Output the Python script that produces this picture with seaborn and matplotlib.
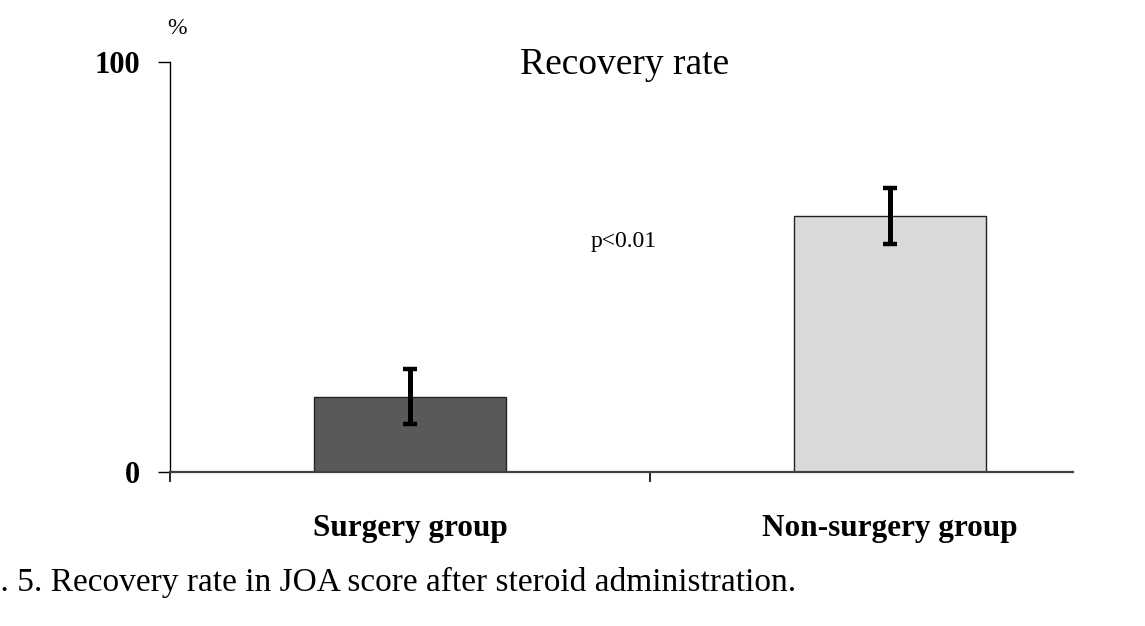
import matplotlib
matplotlib.use("Agg")
import matplotlib.pyplot as plt
import seaborn as sns
import pandas as pd

# data
groups = ["Surgery group", "Non-surgery group"]
recovery = [18.4, 62.4]
sd = [6.7, 6.8]
bar_colors = ["#595959", "#d9d9d9"]
y_ticks = [0, 100]

sns.set_theme(style="white")
plt.rcParams['font.family'] = ['Liberation Serif', 'DejaVu Serif']
plt.rcParams['text.color'] = 'black'

df = pd.DataFrame({"group": groups, "recovery": recovery})

fig = plt.figure(figsize=(11.45, 6.26), dpi=100)
ax = fig.add_axes([170 / 1145, 1 - 472 / 626, (1073 - 170) / 1145, (472 - 62) / 626])

sns.barplot(data=df, x="group", y="recovery", hue="group", palette=bar_colors,
            width=0.4, edgecolor="#222222", linewidth=1.0, errorbar=None,
            legend=False, ax=ax)
ax.errorbar(range(len(groups)), recovery, yerr=sd, fmt="none", ecolor="black",
            elinewidth=3.6, capsize=5, capthick=3.2)

ax.set_xlim(-0.5, -0.5 + (1073 - 170) / 480)
ax.set_ylim(0, 100)
ax.set_xlabel("")
ax.set_ylabel("")

# spines
for s in ["top", "right"]:
    ax.spines[s].set_visible(False)
ax.spines["left"].set_color("black")
ax.spines["left"].set_linewidth(1.0)
ax.spines["bottom"].set_color("#404040")
ax.spines["bottom"].set_linewidth(1.6)

# ticks
ax.set_yticks(y_ticks)
ax.set_yticklabels([str(t) for t in y_ticks], fontsize=22, fontweight="bold")
ax.tick_params(axis="y", direction="out", length=8.5, width=1.0, color="black",
               labelcolor="black", pad=13, left=True)
ax.set_xticks(range(len(groups)))
ax.set_xticklabels(groups, fontsize=22.5, fontweight="bold")
ax.tick_params(axis="x", which="major", length=0, pad=30, labelcolor="black")
ax.set_xticks([-0.5, 0.5], minor=True)
ax.tick_params(axis="x", which="minor", direction="out", length=7.5, width=1.2,
               color="black", bottom=True)

ax.text(0.446, 56.3, "p<0.01", fontsize=17, ha="center", va="center")

fig.text(625 / 1145, 1 - 65 / 626, "Recovery rate", fontsize=27, ha="center", va="center")
fig.text(177 / 1145, 1 - 28 / 626, "%", fontsize=17, ha="center", va="center")
# caption runs off the left edge, as in the reference
fig.text(-44 / 1145, 1 - 582 / 626,
         "Fig. 5. Recovery rate in JOA score after steroid administration.",
         fontsize=24, ha="left", va="center")

fig.savefig("out.png", dpi=100)
